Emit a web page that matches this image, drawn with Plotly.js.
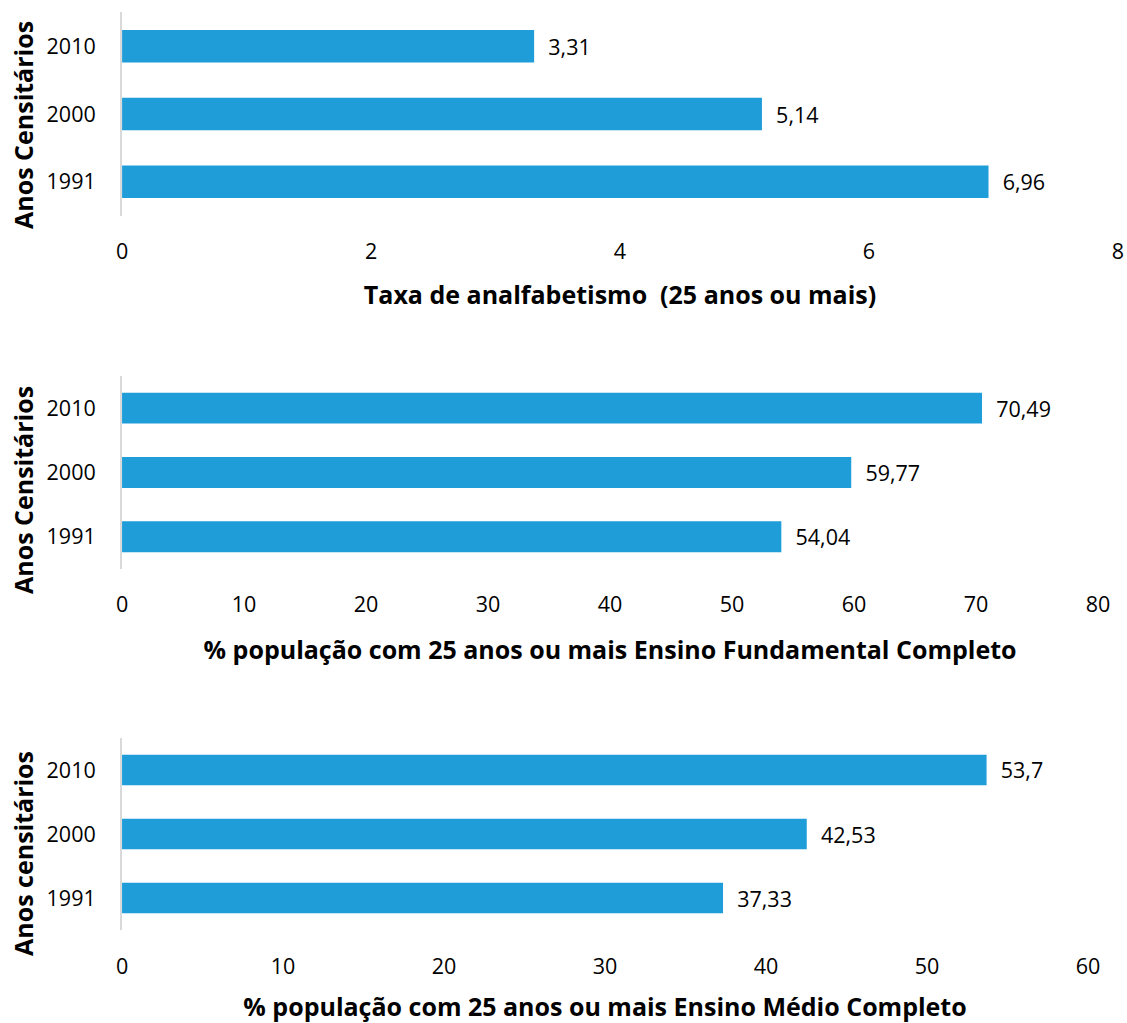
<!DOCTYPE html>
<html>
<head>
<meta charset="utf-8">
<script src="https://cdn.plot.ly/plotly-3.0.1.min.js"></script>
<style>html,body{margin:0;padding:0;background:#fff;}#chart{width:1127px;height:1023px;}</style>
</head>
<body>
<div id="chart"></div>
<script>
const years = ['1991', '2000', '2010'];
const analfabetismo = [6.96, 5.14, 3.31];
const fundamental = [54.04, 59.77, 70.49];
const medio = [37.33, 42.53, 53.7];

const title1 = 'Taxa de analfabetismo  (25 anos ou mais)';
const title2 = '% população com 25 anos ou mais Ensino Fundamental Completo';
const title3 = '% população com 25 anos ou mais Ensino Médio Completo';
const ytitle1 = 'Anos Censitários';
const ytitle2 = 'Anos Censitários';
const ytitle3 = 'Anos censitários';

const FONT = 'Open Sans, Noto Sans, sans-serif';
const BLUE = '#1F9DD9';
const fmt = v => String(v).replace('.', ',');

function barTrace(vals, xa, ya) {
  return {
    type: 'bar', orientation: 'h', y: years, x: vals,
    xaxis: xa, yaxis: ya,
    marker: {color: BLUE, line: {width: 0}},
    text: vals.map(v => '  ' + fmt(v)),
    textposition: 'outside', cliponaxis: false,
    textfont: {family: FONT, size: 21.5, color: '#000'},
    hoverinfo: 'skip'
  };
}

function xax(domain, range, dtick, title, anchor, standoff) {
  return {
    domain: domain, range: range, dtick: dtick, anchor: anchor,
    showgrid: false, zeroline: false, showline: false, ticks: '',
    tickfont: {family: FONT, size: 21.5, color: '#000'},
    ticklabelstandoff: 21,
    title: {text: '<b>' + title + '</b>', font: {family: FONT, size: 25, color: '#000'}, standoff: standoff},
    automargin: false, fixedrange: true
  };
}
function yax(domain, anchor) {
  return {
    domain: domain, anchor: anchor, type: 'category',
    categoryorder: 'array', categoryarray: years,
    showgrid: false, zeroline: false, showline: true, linecolor: '#d9d9d9', linewidth: 2,
    ticks: '', tickfont: {family: FONT, size: 21.5, color: '#000'},
    ticklabelstandoff: 20,
    automargin: false, fixedrange: true
  };
}
function ytitleAnn(text, ycenter) {
  return {
    xref: 'paper', yref: 'paper', x: 23 / 1127, y: ycenter,
    xanchor: 'center', yanchor: 'middle', textangle: -90, showarrow: false,
    text: '<b>' + text + '</b>', font: {family: FONT, size: 25, color: '#000'}
  };
}

const data = [
  barTrace(analfabetismo, 'x', 'y'),
  barTrace(fundamental, 'x2', 'y2'),
  barTrace(medio, 'x3', 'y3')
];

const layout = {
  width: 1127, height: 1023,
  margin: {l: 0, r: 0, t: 0, b: 0},
  paper_bgcolor: '#fff', plot_bgcolor: '#fff',
  showlegend: false, bargap: 0.52,
  separators: ',.',
  font: {family: FONT, color: '#000'},
  xaxis: xax([0.1083, 0.9920], [0, 8], 2, title1, 'y', 22),
  yaxis: yax([0.7893, 0.9878], 'x'),
  xaxis2: xax([0.1083, 0.9743], [0, 80], 10, title2, 'y2', 24),
  yaxis2: yax([0.4438, 0.6325], 'x2'),
  xaxis3: xax([0.1083, 0.9654], [0, 60], 10, title3, 'y3', 20),
  yaxis3: yax([0.0909, 0.2786], 'x3'),
  annotations: [
    ytitleAnn(ytitle1, 0.8778),
    ytitleAnn(ytitle2, 0.5210),
    ytitleAnn(ytitle3, 0.1652)
  ]
};

Plotly.newPlot('chart', data, layout, {displayModeBar: false, staticPlot: true});
</script>
</body>
</html>
